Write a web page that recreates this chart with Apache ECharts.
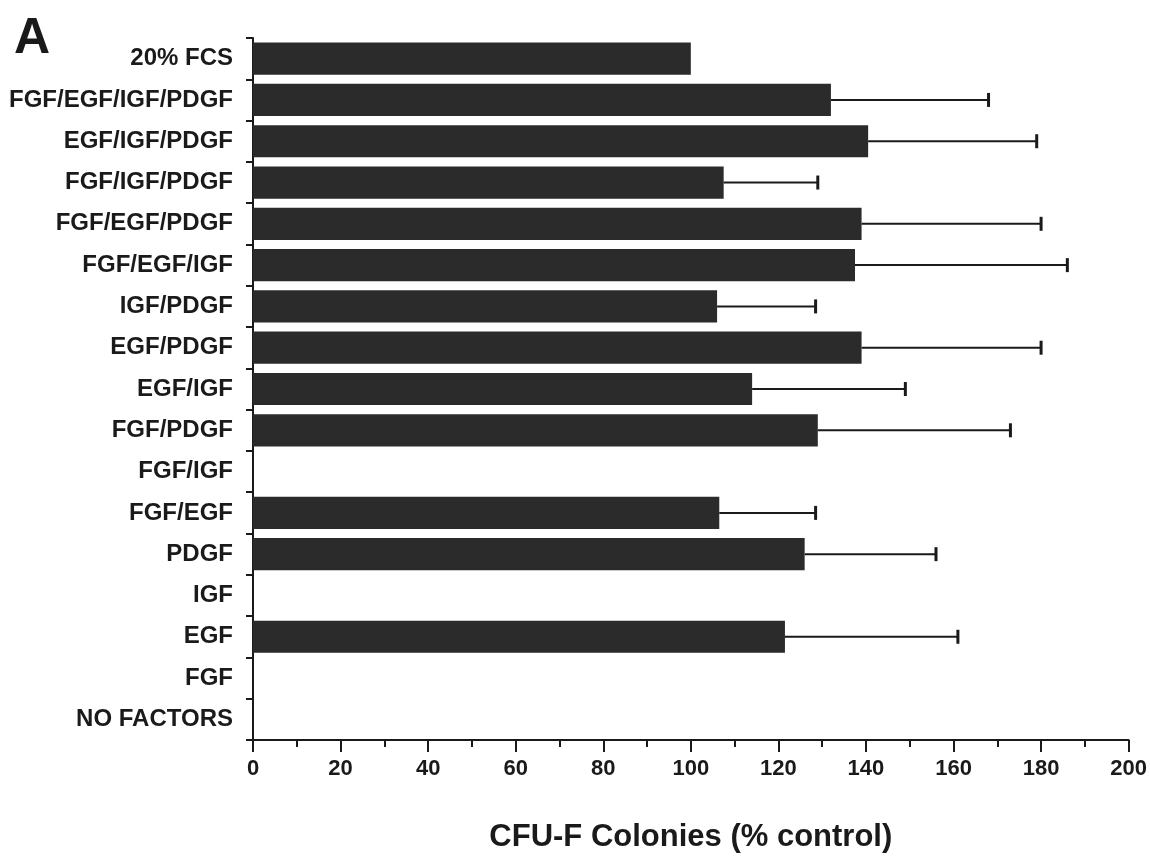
<!DOCTYPE html>
<html>
<head>
<meta charset="utf-8">
<script src="https://cdn.jsdelivr.net/npm/echarts@6/dist/echarts.min.js"></script>
<style>html,body{margin:0;padding:0;background:#fff}#c{width:1150px;height:860px}</style>
</head>
<body>
<div id="c"></div>
<script>
// Categories top to bottom
const categories = ["20% FCS","FGF/EGF/IGF/PDGF","EGF/IGF/PDGF","FGF/IGF/PDGF","FGF/EGF/PDGF","FGF/EGF/IGF","IGF/PDGF","EGF/PDGF","EGF/IGF","FGF/PDGF","FGF/IGF","FGF/EGF","PDGF","IGF","EGF","FGF","NO FACTORS"];
// Mean CFU-F colonies (% control)
const values = [100, 132, 140.5, 107.5, 139, 137.5, 106, 139, 114, 129, 0, 106.5, 126, 0, 121.5, 0, 0];
// Upper end of error bars (null = no error bar)
const errorUpper = [null, 168, 179, 129, 180, 186, 128.5, 180, 149, 173, null, 128.5, 156, null, 161, null, null];
const xTicks = {min: 0, max: 200, interval: 20};

const barColor = '#2b2b2b';
const ink = '#1a1a1a';
const fontFam = "'Liberation Sans', Arial, Helvetica, sans-serif";

const errData = [];
categories.forEach((c, i) => {
  if (errorUpper[i] != null) errData.push([values[i], errorUpper[i], i]);
});

const chart = echarts.init(document.getElementById('c'), null, {renderer: 'canvas'});
chart.setOption({
  animation: false,
  backgroundColor: '#fff',
  title: {
    text: 'A', left: 9, top: 9,
    textStyle: {fontFamily: fontFam, fontWeight: 'bold', fontSize: 50, color: ink}
  },
  grid: {left: 253, right: 21, top: 38, bottom: 120},
  xAxis: {
    type: 'value', min: xTicks.min, max: xTicks.max, interval: xTicks.interval,
    name: 'CFU-F Colonies (% control)', nameLocation: 'middle', nameGap: 82,
    nameTextStyle: {fontFamily: fontFam, fontWeight: 'bold', fontSize: 31, color: ink},
    axisLine: {show: true, lineStyle: {color: ink, width: 2}},
    axisTick: {show: true, length: 12, lineStyle: {color: ink, width: 2}},
    minorTick: {show: true, splitNumber: 2, length: 7, lineStyle: {color: ink, width: 2}},
    splitLine: {show: false},
    axisLabel: {margin: 18, fontFamily: fontFam, fontWeight: 'bold', fontSize: 22, color: ink}
  },
  yAxis: {
    type: 'category', data: categories, inverse: true,
    axisLine: {show: true, lineStyle: {color: ink, width: 2}},
    axisTick: {show: true, length: 7, alignWithLabel: false, lineStyle: {color: ink, width: 2}},
    axisLabel: {margin: 20, fontFamily: fontFam, fontWeight: 'bold', fontSize: 24, color: ink}
  },
  series: [
    {
      type: 'bar', data: values, barCategoryGap: '22%',
      itemStyle: {color: barColor}, z: 2
    },
    {
      type: 'custom', data: errData, z: 3,
      encode: {x: [0, 1], y: 2},
      renderItem: function (params, api) {
        const start = api.coord([api.value(0), api.value(2)]);
        const end = api.coord([api.value(1), api.value(2)]);
        const capH = 14;
        return {
          type: 'group',
          children: [
            {type: 'line', shape: {x1: start[0], y1: start[1], x2: end[0], y2: end[1]},
             style: {stroke: ink, lineWidth: 2}},
            {type: 'line', shape: {x1: end[0], y1: end[1] - capH / 2, x2: end[0], y2: end[1] + capH / 2},
             style: {stroke: ink, lineWidth: 3}}
          ]
        };
      }
    }
  ]
});
</script>
</body>
</html>
